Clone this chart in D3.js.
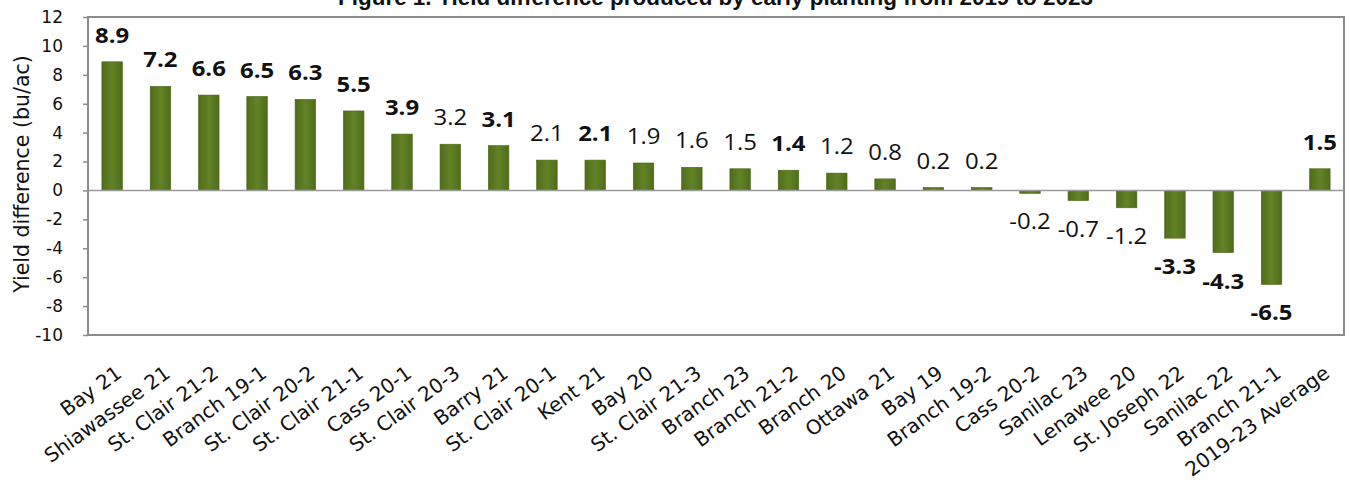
<!DOCTYPE html>
<html>
<head>
<meta charset="utf-8">
<script src="https://cdn.jsdelivr.net/npm/d3@7/dist/d3.min.js"></script>
<style>
  html, body { margin: 0; padding: 0; background: #fff; }
  svg { display: block; }
</style>
</head>
<body>
<svg id="chart" width="1351" height="484"></svg>
<script>
const titleText = "Figure 1. Yield difference produced by early planting from 2019 to 2023";
const yAxisTitle = "Yield difference (bu/ac)";
const categories = ["Bay 21", "Shiawassee 21", "St. Clair 21-2", "Branch 19-1", "St. Clair 20-2",
  "St. Clair 21-1", "Cass 20-1", "St. Clair 20-3", "Barry 21", "St. Clair 20-1", "Kent 21",
  "Bay 20", "St. Clair 21-3", "Branch 23", "Branch 21-2", "Branch 20", "Ottawa 21", "Bay 19",
  "Branch 19-2", "Cass 20-2", "Sanilac 23", "Lenawee 20", "St. Joseph 22", "Sanilac 22",
  "Branch 21-1", "2019-23 Average"];
const values = [8.9, 7.2, 6.6, 6.5, 6.3, 5.5, 3.9, 3.2, 3.1, 2.1, 2.1, 1.9, 1.6, 1.5, 1.4, 1.2,
  0.8, 0.2, 0.2, -0.2, -0.7, -1.2, -3.3, -4.3, -6.5, 1.5];
const significant = [true, true, true, true, true, true, true, false, true, false, true, false,
  false, false, true, false, false, false, false, false, false, false, true, true, true, true];
const yTicks = [-10, -8, -6, -4, -2, 0, 2, 4, 6, 8, 10, 12];

const data = categories.map((c, i) => ({ cat: c, val: values[i], sig: significant[i] }));

const svg = d3.select("#chart");
const margin = { left: 88, right: 7, top: 17, bottom: 149 };
const W = 1351, H = 484;
const x0 = margin.left, x1 = W - margin.right, yTop = margin.top, yBot = H - margin.bottom;

const x = d3.scaleBand().domain(categories).range([x0, x1]).paddingInner(0.575).paddingOuter(0.2875);
const y = d3.scaleLinear().domain([-10, 12]).range([yBot, yTop]);
const fmtVal = v => d3.format(".1f")(v).replace("\u2212", "-");
const fmtTick = v => String(v);

const defs = svg.append("defs");
const grad = defs.append("linearGradient").attr("id", "barGrad").attr("x1", "0").attr("x2", "1").attr("y1", "0").attr("y2", "0");
grad.append("stop").attr("offset", "0%").attr("stop-color", "#4f6d1a");
grad.append("stop").attr("offset", "50%").attr("stop-color", "#618326");
grad.append("stop").attr("offset", "100%").attr("stop-color", "#4f6d1a");

// Title (partly cut off at the top, as in the reference)
svg.append("text")
  .attr("x", 338).attr("y", 5)
  .attr("textLength", 755).attr("lengthAdjust", "spacingAndGlyphs")
  .style("font-family", "'Liberation Sans Narrow', 'Arial Narrow', 'Liberation Sans', sans-serif")
  .style("font-weight", "bold").style("font-size", "22px").attr("fill", "#111")
  .text(titleText);

// Y axis
const yAxis = d3.axisLeft(y).tickValues(yTicks).tickSize(5).tickPadding(20).tickFormat(fmtTick);
const gy = svg.append("g").attr("transform", `translate(${x0},0)`).call(yAxis);
gy.select(".domain").remove();
gy.selectAll(".tick line").attr("stroke", "#8c8c8c").attr("stroke-width", 1.5);
gy.selectAll(".tick text").style("font-family", "'DejaVu Sans', Verdana, sans-serif").style("font-size", "17px").attr("fill", "#111");

// Y axis title
svg.append("text")
  .attr("transform", `translate(29,${(50 + 298) / 2}) rotate(-90)`)
  .attr("text-anchor", "middle")
  .style("font-family", "'DejaVu Sans', Verdana, sans-serif").style("font-size", "20.5px").attr("fill", "#111")
  .text(yAxisTitle);

// Bars
svg.append("g").selectAll("rect").data(data).join("rect")
  .attr("x", d => x(d.cat))
  .attr("width", x.bandwidth())
  .attr("y", d => y(Math.max(0, d.val)))
  .attr("height", d => Math.abs(y(d.val) - y(0)))
  .attr("fill", "url(#barGrad)")
  .attr("stroke", "#4a6616").attr("stroke-width", 0.6);

// Zero line
svg.append("line").attr("x1", x0).attr("x2", x1).attr("y1", y(0)).attr("y2", y(0))
  .attr("stroke", "#9a9a9a").attr("stroke-width", 1.5);

// Plot frame
svg.append("rect").attr("x", x0).attr("y", yTop).attr("width", x1 - x0).attr("height", yBot - yTop)
  .attr("fill", "none").attr("stroke", "#8c8c8c").attr("stroke-width", 2);

// Value labels
svg.append("g").selectAll("text").data(data).join("text")
  .attr("transform", d => {
    const cx = x(d.cat) + x.bandwidth() / 2;
    const cy = d.val >= 0 ? y(d.val) - 19 : y(d.val) + 36;
    return `translate(${cx},${cy}) scale(1.14,1)`;
  })
  .attr("text-anchor", "middle")
  .style("font-family", "'Open Sans', 'Noto Sans', sans-serif")
  .style("font-size", "21px")
  .style("font-weight", d => d.sig ? "bold" : "normal")
  .attr("fill", "#111")
  .text(d => fmtVal(d.val));

// Category labels
svg.append("g").selectAll("text").data(data).join("text")
  .attr("transform", d => `translate(${x(d.cat) + x.bandwidth() / 2 + 11},${yBot + 41}) rotate(-36)`)
  .attr("text-anchor", "end")
  .style("font-family", "'DejaVu Sans', Verdana, sans-serif")
  .style("font-size", "20px")
  .attr("fill", "#111")
  .text(d => d.cat);
</script>
</body>
</html>
